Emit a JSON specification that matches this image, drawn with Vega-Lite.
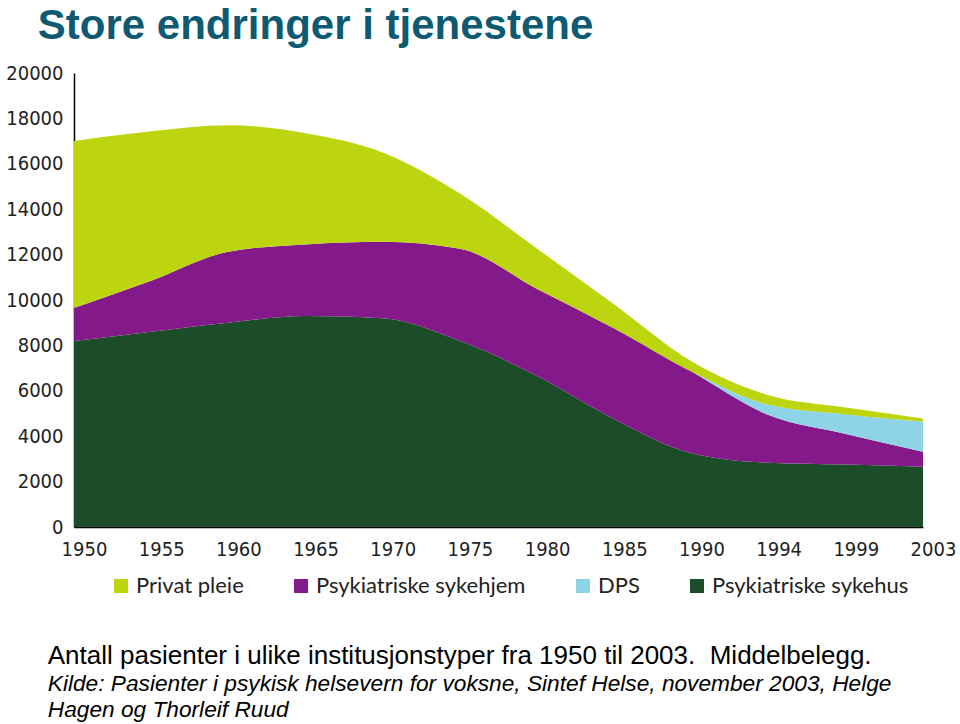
{
  "$schema": "https://vega.github.io/schema/vega-lite/v6.json",
  "background": "white",
  "padding": 5,
  "title": {
    "text": "Store endringer i tjenestene",
    "anchor": "start",
    "frame": "bounds",
    "font": "Liberation Sans",
    "fontSize": 42,
    "fontWeight": "bold",
    "color": "#0e5a72",
    "dx": 32,
    "offset": 15
  },
  "config": {"view": {"stroke": null}},
  "vconcat": [
    {
      "title": {
        "text": "Antall pasienter i ulike institusjonstyper fra 1950 til 2003.\u00a0 Middelbelegg.",
        "subtitle": ["Kilde: Pasienter i psykisk helsevern for voksne, Sintef Helse, november 2003, Helge", "Hagen og Thorleif Ruud"],
        "orient": "bottom",
        "anchor": "start",
        "frame": "bounds",
        "font": "Liberation Sans",
        "fontSize": 26,
        "fontWeight": "normal",
        "color": "#000000",
        "subtitleFont": "Liberation Sans",
        "subtitleFontSize": 22.7,
        "subtitleFontStyle": "italic",
        "subtitleColor": "#000000",
        "subtitleLineHeight": 26,
        "subtitlePadding": 4,
        "offset": 84,
        "dx": 42
      },
      "vconcat": [
        {
          "width": 849,
          "height": 454,
          "data": {
            "values": [
              {"år": "1950", "type": "Psykiatriske sykehus", "lag": 1, "antall": 8190},
              {"år": "1955", "type": "Psykiatriske sykehus", "lag": 1, "antall": 8600},
              {"år": "1960", "type": "Psykiatriske sykehus", "lag": 1, "antall": 9000},
              {"år": "1965", "type": "Psykiatriske sykehus", "lag": 1, "antall": 9290},
              {"år": "1970", "type": "Psykiatriske sykehus", "lag": 1, "antall": 9200},
              {"år": "1975", "type": "Psykiatriske sykehus", "lag": 1, "antall": 8200},
              {"år": "1980", "type": "Psykiatriske sykehus", "lag": 1, "antall": 6650},
              {"år": "1985", "type": "Psykiatriske sykehus", "lag": 1, "antall": 4750},
              {"år": "1990", "type": "Psykiatriske sykehus", "lag": 1, "antall": 3250},
              {"år": "1994", "type": "Psykiatriske sykehus", "lag": 1, "antall": 2830},
              {"år": "1999", "type": "Psykiatriske sykehus", "lag": 1, "antall": 2750},
              {"år": "2003", "type": "Psykiatriske sykehus", "lag": 1, "antall": 2650},
              {"år": "1950", "type": "Psykiatriske sykehjem", "lag": 2, "antall": 1460},
              {"år": "1955", "type": "Psykiatriske sykehjem", "lag": 2, "antall": 2250},
              {"år": "1960", "type": "Psykiatriske sykehjem", "lag": 2, "antall": 3125},
              {"år": "1965", "type": "Psykiatriske sykehjem", "lag": 2, "antall": 3160},
              {"år": "1970", "type": "Psykiatriske sykehjem", "lag": 2, "antall": 3370},
              {"år": "1975", "type": "Psykiatriske sykehjem", "lag": 2, "antall": 4060},
              {"år": "1980", "type": "Psykiatriske sykehjem", "lag": 2, "antall": 3840},
              {"år": "1985", "type": "Psykiatriske sykehjem", "lag": 2, "antall": 4000},
              {"år": "1990", "type": "Psykiatriske sykehjem", "lag": 2, "antall": 3600},
              {"år": "1994", "type": "Psykiatriske sykehjem", "lag": 2, "antall": 2100},
              {"år": "1999", "type": "Psykiatriske sykehjem", "lag": 2, "antall": 1350},
              {"år": "2003", "type": "Psykiatriske sykehjem", "lag": 2, "antall": 670},
              {"år": "1990", "type": "DPS", "lag": 3, "antall": 0},
              {"år": "1994", "type": "DPS", "lag": 3, "antall": 450},
              {"år": "1999", "type": "DPS", "lag": 3, "antall": 860},
              {"år": "2003", "type": "DPS", "lag": 3, "antall": 1330},
              {"år": "1950", "type": "Privat pleie", "lag": 4, "antall": 7350},
              {"år": "1955", "type": "Privat pleie", "lag": 4, "antall": 6580},
              {"år": "1960", "type": "Privat pleie", "lag": 4, "antall": 5575},
              {"år": "1965", "type": "Privat pleie", "lag": 4, "antall": 4900},
              {"år": "1970", "type": "Privat pleie", "lag": 4, "antall": 3930},
              {"år": "1975", "type": "Privat pleie", "lag": 4, "antall": 2430},
              {"år": "1980", "type": "Privat pleie", "lag": 4, "antall": 1770},
              {"år": "1985", "type": "Privat pleie", "lag": 4, "antall": 1050},
              {"år": "1990", "type": "Privat pleie", "lag": 4, "antall": 450},
              {"år": "1994", "type": "Privat pleie", "lag": 4, "antall": 420},
              {"år": "1999", "type": "Privat pleie", "lag": 4, "antall": 300},
              {"år": "2003", "type": "Privat pleie", "lag": 4, "antall": 130}
            ]
          },
          "mark": {"type": "area", "interpolate": "monotone"},
          "encoding": {
            "x": {
              "field": "år",
              "type": "ordinal",
              "scale": {"type": "point", "padding": 0},
              "axis": {
                "title": null,
                "labelAngle": 0,
                "labelFont": "DejaVu Sans Condensed, DejaVu Sans",
                "labelFontSize": 20,
                "labelColor": "#222222",
                "labelOffset": 10,
                "labelPadding": 12,
                "ticks": false,
                "domainColor": "#000000",
                "domainWidth": 1.5,
                "grid": false
              }
            },
            "y": {
              "field": "antall",
              "type": "quantitative",
              "stack": "zero",
              "scale": {"domain": [0, 20000], "nice": false},
              "axis": {
                "title": null,
                "values": [0, 2000, 4000, 6000, 8000, 10000, 12000, 14000, 16000, 18000, 20000],
                "format": "d",
                "labelFont": "DejaVu Sans Condensed, DejaVu Sans",
                "labelFontSize": 20,
                "labelColor": "#222222",
                "labelPadding": 11,
                "ticks": false,
                "domainColor": "#000000",
                "domainWidth": 1.5,
                "grid": false
              }
            },
            "order": {"field": "lag", "type": "quantitative", "sort": "ascending"},
            "color": {
              "field": "type",
              "type": "nominal",
              "scale": {
                "domain": ["Privat pleie", "Psykiatriske sykehjem", "DPS", "Psykiatriske sykehus"],
                "range": ["#bdd50f", "#841a8a", "#8fd3e6", "#1b4d28"]
              },
              "legend": {
                "title": null,
                "orient": "none",
                "legendX": 36,
                "legendY": 502,
                "direction": "horizontal",
                "symbolType": "square",
                "symbolSize": 196,
                "symbolStrokeWidth": 0,
                "symbolOpacity": 1,
                "labelFont": "Lato",
                "labelFontSize": 22,
                "labelLimit": 0,
                "labelColor": "#222222",
                "columnPadding": 46
              }
            }
          }
        }
      ]
    }
  ]
}
